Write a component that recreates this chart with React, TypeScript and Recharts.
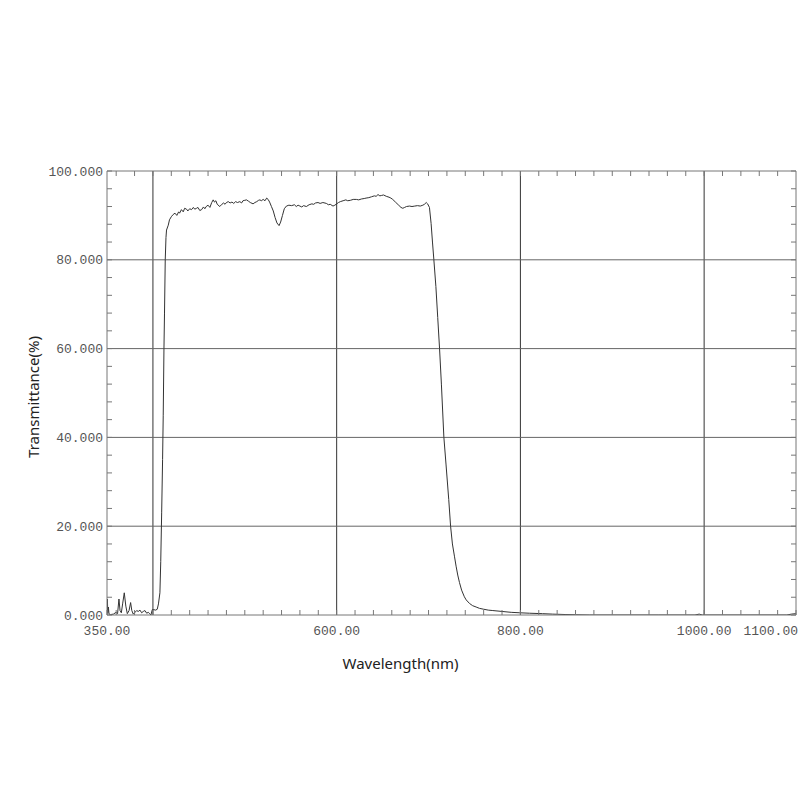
import React from 'react';
import { LineChart, Line, XAxis, YAxis, ReferenceLine, Label } from 'recharts';

const wavelengths = [
  350, 350.4, 350.9, 351.5, 352.2, 354, 357, 359.8, 361.5, 363, 364.2, 365.6, 367, 368.8, 370.5, 372.1,
  374, 375.7, 377, 378.6, 380.5, 382.3, 384, 385.9, 387.7, 389.5, 391.3, 393.2, 394.9, 396.5, 397.8,
  399.3, 401, 403, 404.7, 406, 407.6, 408.5, 409.5, 410.5, 411.2, 412, 412.6, 413.4, 414.2, 414.8,
  416.7, 418, 420, 422, 424, 426, 428, 429, 431, 433, 434.5, 436.6, 438, 440, 442, 444, 445.5, 447.5,
  449, 451, 453, 455, 456.5, 458, 460, 462, 464, 465.6, 467, 468.5, 470, 472.8, 475, 477, 478.5, 480,
  482, 484, 486, 488, 490, 492, 494.6, 496.5, 498, 500, 501.8, 504, 506, 509, 511, 513, 515, 516.5,
  518, 520, 522, 523.8, 525.4, 527, 529, 531, 533, 535, 537.3, 539, 541, 543, 545.3, 548, 551, 554,
  556, 558, 560, 562, 564, 567, 570, 573, 575, 577, 579.7, 582, 585, 588.8, 591, 593, 596, 598, 600,
  602, 604, 607, 610, 612, 615, 618, 621.4, 624, 627, 630, 632, 635, 638, 641, 643, 645, 647, 649,
  651, 654, 657, 659, 661, 664, 667, 670, 672, 674, 676, 679.3, 682, 685, 688, 691, 693.8, 695.5,
  697.5, 699, 701, 702.8, 704.3, 705.8, 708, 710, 712, 714, 716.7, 719, 722, 724, 726, 728.3, 730,
  731.8, 733.7, 736, 739, 741, 744.6, 748, 751.8, 755.4, 760, 765, 770, 780, 790, 799, 810, 824, 835,
  849.6, 860, 875, 900, 950, 990, 994.6, 998, 1050, 1090, 1095, 1100,
];

const transmittance = [
  0, 3.6, 0.5, 1.8, 0.2, 0.1, 0.2, 0.6, 0.3, 3.6, 1.0, 0.5, 2.5, 5.0, 2.0, 0.3,
  1.0, 2.8, 1.0, 0.2, 0.6, 1.0, 0.8, 1.1, 0.5, 0.8, 1.0, 0.4, 0.6, 0.3, 0,
  1.2, 1.2, 1.1, 1.3, 2.5, 5, 12, 23, 35, 45, 60, 68, 80, 85, 86.7,
  87.8, 89.0, 89.7, 90.2, 90.5, 90.0, 90.8, 90.5, 91.3, 90.8, 91.6, 91.4, 91.0, 91.5, 91.3, 91.8, 91.4, 91.6,
  91.8, 91.1, 91.3, 91.9, 91.5, 92.0, 92.3, 91.8, 92.9, 93.5, 93.0, 93.3, 92.5, 92.0, 92.5, 92.8, 92.5, 92.9,
  93.1, 92.8, 93.0, 92.7, 93.1, 92.9, 93.1, 92.8, 93.3, 93.4, 93.5, 93.2, 92.9, 92.6, 92.9, 93.1, 93.4, 93.5,
  93.3, 93.6, 93.3, 93.9, 93.6, 93.0, 92.0, 91.0, 89.5, 88.3, 87.7, 88.5, 90.0, 91.5, 92.1, 92.3, 92.2, 92.4,
  92.0, 92.3, 92.1, 91.9, 92.2, 92.0, 92.4, 92.6, 92.5, 92.8, 92.9, 92.7, 92.9, 92.7, 92.4, 92.5, 92.1, 92.3, 92.6,
  92.9, 93.1, 93.3, 93.5, 93.3, 93.4, 93.6, 93.6, 93.5, 93.7, 93.8, 93.9, 94.0, 94.2, 94.4, 94.3, 94.7, 94.4, 94.5,
  94.6, 94.3, 94.1, 93.9, 93.6, 93.0, 92.4, 91.8, 91.6, 91.8, 92.0, 92.1, 92.0, 92.1, 92.2, 92.1, 92.3, 92.5,
  92.9, 92.6, 91.8, 88.2, 84, 80, 74, 67, 60, 52, 40, 34, 26, 20, 16, 13.1, 11,
  9, 7.3, 5.6, 4.1, 3.4, 2.6, 2.1, 1.8, 1.5, 1.3, 1.1, 1.0, 0.8, 0.6, 0.5, 0.4, 0.3, 0.2,
  0.1, 0.05, 0, 0, 0, 0, 0.2, 0, 0, 0, 0.2, 0.3,
];

const xLabelTicks = [350, 600, 800, 1000, 1100];
const yLabelTicks = [0, 20, 40, 60, 80, 100];
const xGridLines = [400, 600, 800, 1000];
const yGridLines = [20, 40, 60, 80];
const xMinorTicks = Array.from({ length: 37 }, (_, i) => 360 + i * 20);
const yMinorTicks = Array.from({ length: 26 }, (_, i) => i * 4);

const data = wavelengths.map((w, i) => ({ w, t: transmittance[i] }));

const xTicks = Array.from(new Set([...xLabelTicks, ...xMinorTicks])).sort((a, b) => a - b);
const yTicks = Array.from(new Set([...yLabelTicks, ...yMinorTicks])).sort((a, b) => a - b);

const tickFont = { fill: '#555', fontSize: 13, fontFamily: '"Liberation Mono", monospace' };
const titleFont = { fill: '#222', fontSize: 15, fontFamily: '"Noto Sans", sans-serif' };

const XTick = ({ x, y, payload }: any) => {
  const v = payload.value;
  if (!xLabelTicks.includes(v)) return null;
  const last = v === xLabelTicks[xLabelTicks.length - 1];
  return (
    <text x={last ? x + 2 : x} y={y} dy="0.8em" textAnchor={last ? 'end' : 'middle'} {...tickFont}>
      {v.toFixed(2)}
    </text>
  );
};

const blank = () => '';

export default function App() {
  return (
    <div style={{ position: 'absolute', left: 0, top: 0, width: 800 }}>
      <LineChart width={800} height={760} data={data} margin={{ top: 170, right: 3, left: 0, bottom: 85 }}>
        <XAxis
          xAxisId="main"
          dataKey="w"
          type="number"
          domain={[350, 1100]}
          allowDataOverflow
          ticks={xTicks}
          interval={0}
          tick={<XTick />}
          tickSize={-5}
          tickMargin={15}
          tickLine={{ stroke: '#777' }}
          axisLine={{ stroke: '#777' }}
          height={60}
        >
          <Label
            content={({ viewBox }: any) => (
              <text x={viewBox.x + viewBox.width / 2 - 51} y={viewBox.y + 54} textAnchor="middle" {...titleFont}>
                Wavelength(nm)
              </text>
            )}
          />
        </XAxis>
        <XAxis
          xAxisId="top"
          orientation="top"
          dataKey="w"
          type="number"
          domain={[350, 1100]}
          allowDataOverflow
          ticks={xMinorTicks}
          interval={0}
          tick={tickFont}
          tickFormatter={blank}
          tickSize={-5}
          tickLine={{ stroke: '#777' }}
          axisLine={{ stroke: '#777' }}
          height={1}
        />
        <YAxis
          yAxisId="main"
          type="number"
          domain={[0, 100]}
          allowDataOverflow
          ticks={yTicks}
          interval={0}
          tickFormatter={(v) => (yLabelTicks.includes(v) ? v.toFixed(3) : '')}
          tick={tickFont}
          tickSize={-5}
          tickMargin={9}
          tickLine={{ stroke: '#777' }}
          axisLine={{ stroke: '#777' }}
          width={107}
        >
          <Label
            content={({ viewBox }: any) => {
              const cx = 33;
              const cy = viewBox.y + viewBox.height / 2 + 4;
              return (
                <text x={cx} y={cy} textAnchor="middle" dominantBaseline="central" transform={`rotate(-90 ${cx} ${cy})`} {...titleFont}>
                  Transmittance(%)
                </text>
              );
            }}
          />
        </YAxis>
        <YAxis
          yAxisId="right"
          orientation="right"
          type="number"
          domain={[0, 100]}
          allowDataOverflow
          ticks={yMinorTicks}
          interval={0}
          tick={tickFont}
          tickFormatter={blank}
          tickSize={-5}
          tickLine={{ stroke: '#777' }}
          axisLine={{ stroke: '#777' }}
          width={1}
        />
        {xGridLines.map((x) => (
          <ReferenceLine key={`x${x}`} x={x} xAxisId="main" yAxisId="main" stroke="#333" />
        ))}
        {yGridLines.map((y) => (
          <ReferenceLine key={`y${y}`} y={y} xAxisId="main" yAxisId="main" stroke="#666" />
        ))}
        {/* invisible copy so the top/right frame axes get a domain */}
        <Line
          xAxisId="top"
          yAxisId="right"
          dataKey="t"
          stroke="none"
          dot={false}
          activeDot={false}
          isAnimationActive={false}
        />
        <Line
          xAxisId="main"
          yAxisId="main"
          dataKey="t"
          type="linear"
          stroke="#333"
          strokeWidth={1}
          dot={false}
          isAnimationActive={false}
        />
      </LineChart>
    </div>
  );
}
